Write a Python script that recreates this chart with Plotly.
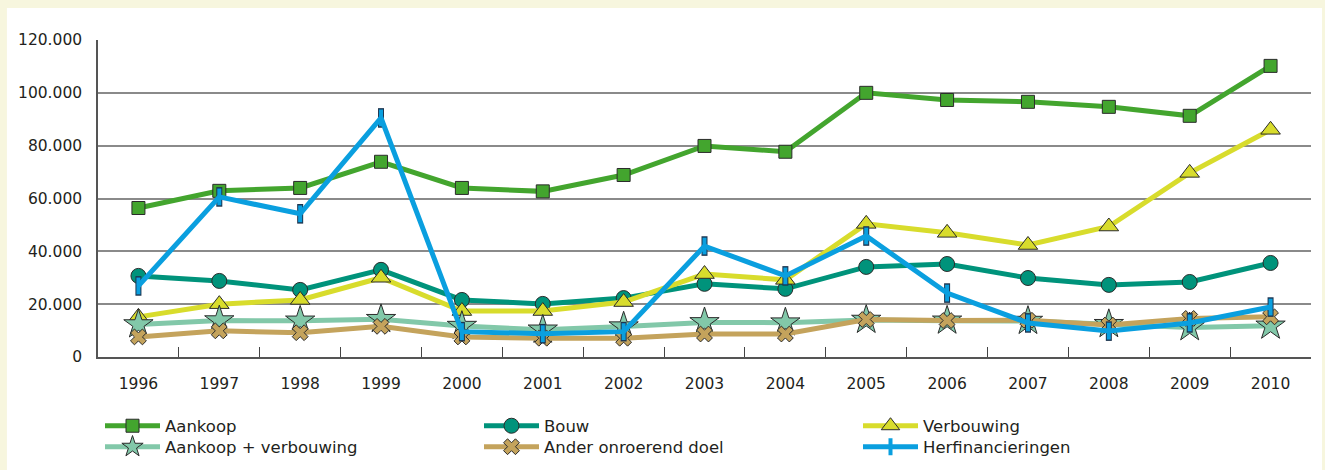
import plotly.graph_objects as go

years = ["1996", "1997", "1998", "1999", "2000", "2001", "2002", "2003",
         "2004", "2005", "2006", "2007", "2008", "2009", "2010"]

aankoop = [56400, 62900, 64000, 73900, 64000, 62700, 68900, 79900,
           77700, 100000, 97300, 96600, 94700, 91300, 110200]
bouw = [30700, 28800, 25400, 33000, 21600, 20100, 22300, 27700,
        25800, 34100, 35200, 29900, 27300, 28400, 35600]
verbouwing = [15200, 20000, 21600, 30000, 17400, 17400, 20800, 31400,
              29200, 50400, 47000, 42400, 49400, 69700, 86000]
aankoop_verbouwing = [12300, 13800, 13700, 14300, 11700, 10300, 11500, 13100,
                      13000, 14000, 13700, 13600, 12400, 11200, 11800]
ander_doel = [7600, 9900, 9200, 11600, 7600, 7100, 7100, 8700,
              8700, 14200, 13800, 13900, 12100, 14600, 15200]
herfinancieringen = [26900, 60600, 54200, 90500, 9600, 8800, 9600, 42000,
                     30700, 45800, 24200, 12900, 9800, 12900, 18900]

y_ticks = [0, 20000, 40000, 60000, 80000, 100000, 120000]

FONT = "DejaVu Sans"
TEXT = "#231f20"
OUTLINE = "#2b2b2b"

fig = go.Figure()

def add_series(name, values, color, symbol, size, legend, width=5):
    fig.add_trace(go.Scatter(
        x=years, y=values, name=name, mode="lines+markers", legend=legend,
        line=dict(color=color, width=width),
        marker=dict(symbol=symbol, size=size, color=color,
                    line=dict(color=OUTLINE, width=1)),
    ))

add_series("Aankoop", aankoop, "#43a52e", "square", 13, "legend")
add_series("Bouw", bouw, "#00937b", "circle", 15, "legend")
add_series("Verbouwing", verbouwing, "#d8dc2c", "triangle-up", 17, "legend")
add_series("Aankoop + verbouwing", aankoop_verbouwing, "#82c8a9", "star", 22, "legend2")
add_series("Ander onroerend doel", ander_doel, "#c4a35c", "x", 14, "legend2")

# dark outline for the refinancing markers (drawn underneath)
fig.add_trace(go.Scatter(
    x=years, y=herfinancieringen, mode="markers", showlegend=False,
    hoverinfo="skip",
    marker=dict(symbol="line-ns", size=14, color="#1c3550",
                line=dict(color="#1c3550", width=6)),
))
fig.add_trace(go.Scatter(
    x=years, y=herfinancieringen, name="Herfinancieringen", mode="lines+markers",
    legend="legend2",
    line=dict(color="#0a9fdf", width=5),
    marker=dict(symbol="line-ns", size=12, color="#0a9fdf",
                line=dict(color="#0a9fdf", width=4)),
))

legend_style = dict(
    orientation="h", xref="container", yref="container",
    x=100 / 1325, xanchor="left", yanchor="middle",
    entrywidth=309, itemwidth=55, traceorder="normal",
    font=dict(family=FONT, size=16.5, color=TEXT),
    bgcolor="rgba(0,0,0,0)",
)

fig.update_layout(
    width=1325, height=470,
    margin=dict(l=98, r=14, t=40, b=113, autoexpand=False),
    paper_bgcolor="#f7f6de",
    plot_bgcolor="rgba(0,0,0,0)",
    separators=",.",
    font=dict(family=FONT, size=15.5, color=TEXT),
    showlegend=True,
    legend=dict(legend_style, y=(470 - 426) / 470),
    legend2=dict(legend_style, y=(470 - 447) / 470),
    shapes=[dict(
        type="rect", xref="paper", yref="paper", layer="below",
        x0=-0.0751, x1=1.0091, y0=-0.4, y1=1.101,
        fillcolor="white", line=dict(width=0),
    )],
)

fig.update_xaxes(
    type="category", range=[-0.5, 14.5], tickson="boundaries",
    ticks="inside", ticklen=10,
    tickcolor="#444444", tickwidth=1, showline=True, linecolor="#555555",
    linewidth=1.5, showgrid=False, ticklabelstandoff=12, automargin=False,
    tickfont=dict(family=FONT, size=15.5, color=TEXT),
)
fig.update_yaxes(
    range=[0, 120000], tickvals=y_ticks, tickformat=",d",
    showgrid=True, gridcolor="#8a8a8a", gridwidth=1.5,
    showline=True, linecolor="#555555", linewidth=1.5,
    ticks="", ticklabelstandoff=11, zeroline=False, automargin=False,
    tickfont=dict(family=FONT, size=15.5, color=TEXT),
)

fig.write_html(
    "out.html",
    config={"displayModeBar": False},
    post_script="document.body.style.margin='0px';document.body.style.overflow='hidden';",
)
